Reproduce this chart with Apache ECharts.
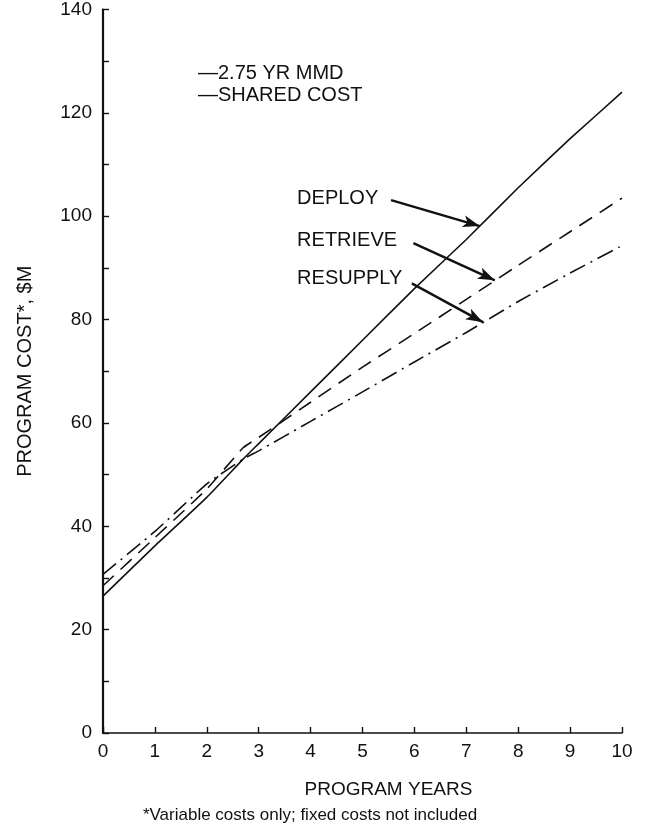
<!DOCTYPE html>
<html>
<head>
<meta charset="utf-8">
<script src="https://cdn.jsdelivr.net/npm/echarts@6/dist/echarts.min.js"></script>
<style>
html,body{margin:0;padding:0;background:#fff;}
#chart{width:650px;height:827px;}
</style>
</head>
<body>
<div id="chart"></div>
<script>
// ---- data ----
var years = [0, 1, 2, 2.7, 3, 4, 5, 6, 7, 8, 9, 10];
var deploy = [26.5, 36.2, 45.6, 53, 56, 66, 76, 86, 95.5, 105.5, 115, 124];
var retrieve = [28.5, 37.8, 47.2, 55.2, 57.2, 64, 70.8, 77.3, 83.9, 90.5, 97, 103.5];
var resupply = [30.7, 39, 48.2, 53, 54.6, 60.3, 66, 71.8, 77.5, 83.5, 89, 94.3];
var yTicks = [0, 20, 40, 60, 80, 100, 120, 140];
var xTicks = [0, 1, 2, 3, 4, 5, 6, 7, 8, 9, 10];
var seriesNames = ['DEPLOY', 'RETRIEVE', 'RESUPPLY'];
// arrows: start and tip in data coords; label anchors
var arrowStarts = [[5.55, 103.1], [5.98, 94.8], [5.95, 87.0]];
var arrowTips = [[7.26, 98.1], [7.55, 87.6], [7.32, 79.5]];
var labelAnchors = [[3.74, 103.3], [3.74, 95.2], [3.74, 87.8]];
var noteLines = ['\u20142.75 YR MMD', '\u2014SHARED COST'];
var noteAnchor = [1.83, 127.5];
var xTitle = 'PROGRAM YEARS';
var yTitle = 'PROGRAM COST*, $M';
var footnote = '*Variable costs only; fixed costs not included';

function pairs(ys) { return years.map(function (x, i) { return [x, ys[i]]; }); }

var FONT = '"Liberation Sans", Arial, Helvetica, sans-serif';
var INK = '#111';

var chart = echarts.init(document.getElementById('chart'), null, {renderer: 'canvas'});

function arrowLine(i) {
  return {
    silent: true,
    symbol: ['none', 'arrow'],
    symbolSize: [9, 17],
    lineStyle: {color: INK, width: 2.4, type: 'solid'},
    label: {show: false},
    data: [[{coord: arrowStarts[i]}, {coord: arrowTips[i]}]]
  };
}

var styles = [
  {type: 'solid'},
  {type: [15, 9]},
  {type: [17, 6, 2, 6]}
];
var dataSets = [deploy, retrieve, resupply];

var series = dataSets.map(function (d, i) {
  return {
    name: seriesNames[i],
    type: 'line',
    data: pairs(d),
    showSymbol: false,
    smooth: 0.12,
    lineStyle: {color: INK, width: 1.6, type: styles[i].type},
    markLine: arrowLine(i),
    z: 3
  };
});

chart.setOption({
  animation: false,
  backgroundColor: '#fff',
  grid: {left: 103, right: 28, top: 9, bottom: 94, containLabel: false},
  xAxis: {
    type: 'value', min: 0, max: 10, interval: 1,
    axisLine: {show: true, onZero: false, lineStyle: {color: INK, width: 1.6}},
    axisTick: {show: true, inside: true, length: 6, lineStyle: {color: INK, width: 1.4}},
    splitLine: {show: false},
    axisLabel: {color: INK, fontFamily: FONT, fontSize: 19, margin: 9,
      formatter: function (v) { return xTicks.indexOf(v) >= 0 ? String(v) : ''; }}
  },
  yAxis: {
    type: 'value', min: 0, max: 140, interval: 10,
    axisLine: {show: true, onZero: false, lineStyle: {color: INK, width: 2.2}},
    axisTick: {show: true, inside: true, length: 6, lineStyle: {color: INK, width: 1.4}},
    splitLine: {show: false},
    axisLabel: {color: INK, fontFamily: FONT, fontSize: 19, margin: 11,
      formatter: function (v) { return yTicks.indexOf(v) >= 0 ? String(v) : ''; }}
  },
  series: series
});

function px(p) { return chart.convertToPixel({gridIndex: 0}, p); }

var graphics = [];
labelAnchors.forEach(function (a, i) {
  var p = px(a);
  graphics.push({type: 'text', left: p[0], top: p[1] - 11,
    style: {text: seriesNames[i], fill: INK, font: '20px ' + FONT}, silent: true});
});
var n = px(noteAnchor);
noteLines.forEach(function (t, i) {
  graphics.push({type: 'text', left: n[0], top: n[1] - 11 + i * 22,
    style: {text: t, fill: INK, font: '20px ' + FONT}, silent: true});
});
var xt = px([5.5, 0]);
graphics.push({type: 'text', x: xt[0], y: 790,
  style: {text: xTitle, fill: INK, font: '19px ' + FONT, textAlign: 'center', textVerticalAlign: 'middle'}, silent: true});
graphics.push({type: 'text', x: 310, y: 815,
  style: {text: footnote, fill: INK, font: '17px ' + FONT, textAlign: 'center', textVerticalAlign: 'middle'}, silent: true});
var yt = px([0, 70]);
graphics.push({type: 'text', x: 25, y: yt[1], rotation: Math.PI / 2,
  style: {text: yTitle, fill: INK, font: '20px ' + FONT, textAlign: 'center', textVerticalAlign: 'middle'}, silent: true});

chart.setOption({graphic: graphics});
</script>
</body>
</html>
